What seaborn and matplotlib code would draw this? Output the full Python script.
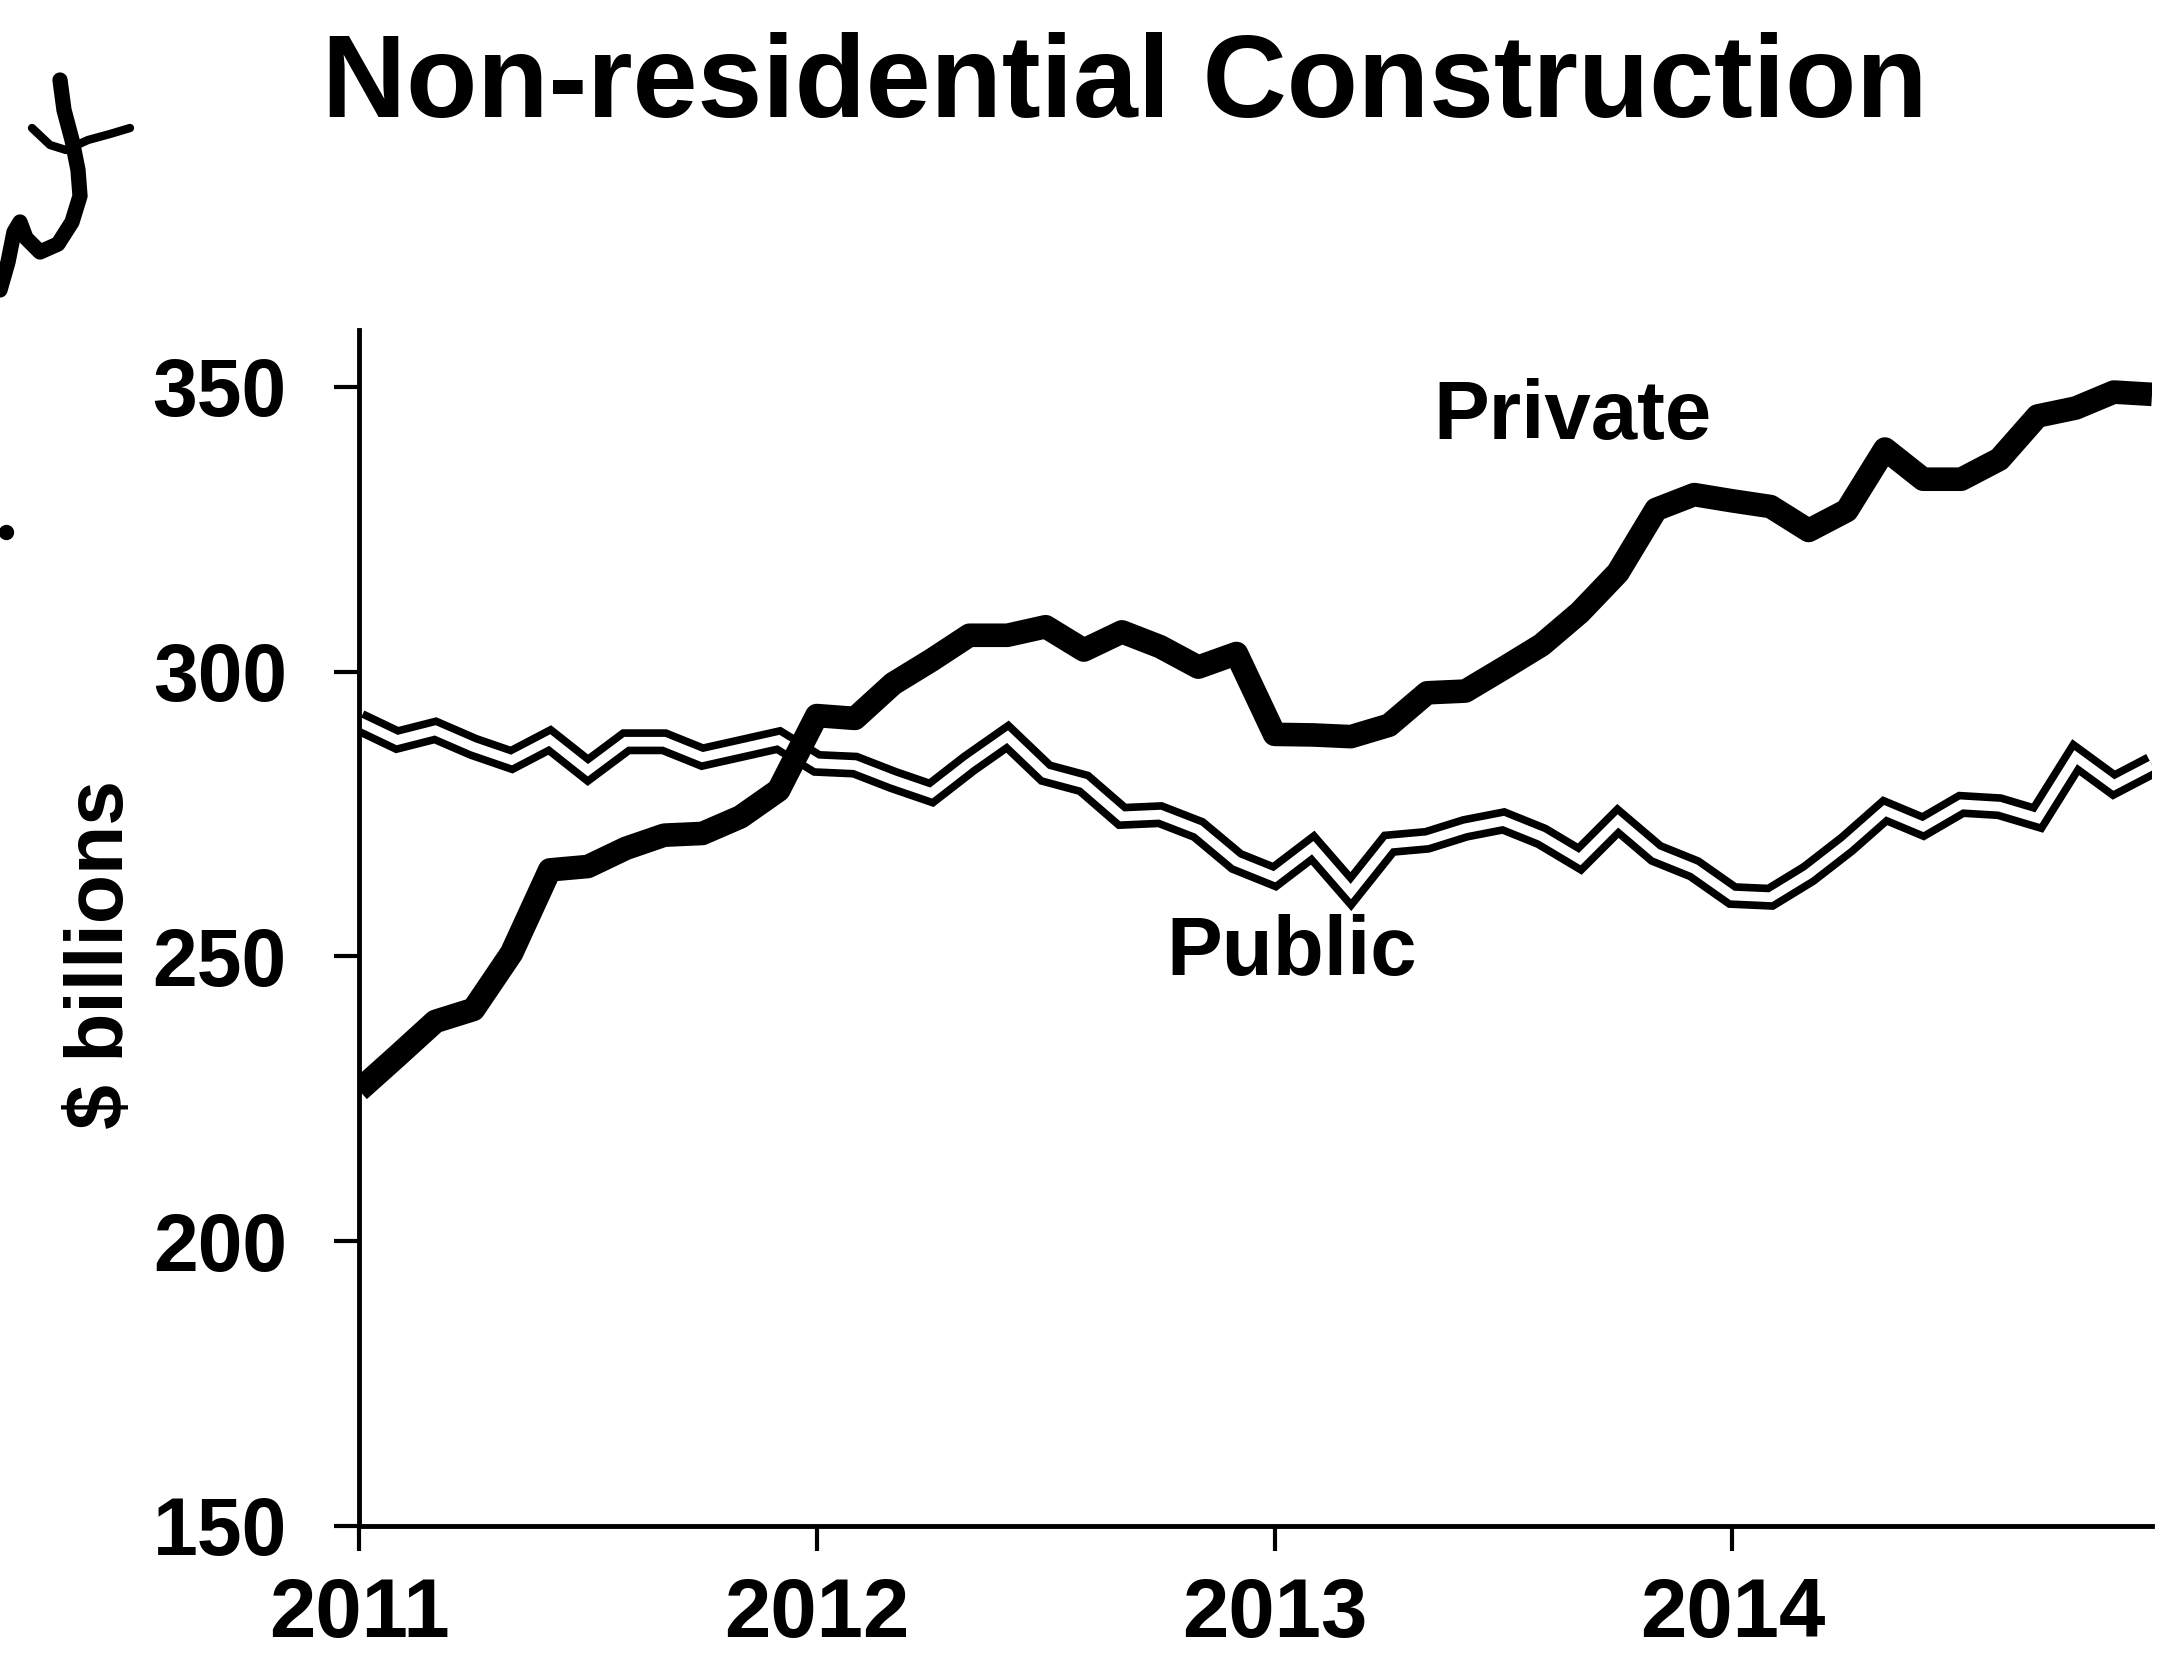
import numpy as np
import pandas as pd
import matplotlib
matplotlib.use("Agg")
import matplotlib.pyplot as plt
from matplotlib.lines import Line2D
import seaborn as sns

# ---- data (monthly, Jan 2011 - Dec 2014, $ billions) ----
private = [226.5, 232.5, 238.6, 240.7, 250.6, 265.2, 265.8, 269.0, 271.3, 271.6, 274.5, 279.2,
           292.3, 291.8, 297.9, 302.0, 306.4, 306.4, 307.9, 303.8, 307.0, 304.4, 300.8, 303.2,
           289.0, 288.9, 288.6, 290.6, 296.3, 296.6, 300.6, 304.7, 310.4, 317.4, 328.5, 331.1,
           330.0, 329.0, 324.8, 328.3, 339.1, 333.8, 333.8, 337.3, 344.9, 346.3, 349.1, 348.7]
public = [291.2, 288.0, 289.7, 286.8, 284.5, 288.0, 282.7, 287.7, 287.7, 285.0, 286.5, 288.0,
          283.9, 283.6, 281.0, 278.7, 283.9, 288.6, 282.2, 280.4, 274.6, 274.9, 272.3, 266.7,
          264.0, 269.1, 261.4, 269.8, 270.4, 272.5, 273.8, 271.1, 267.1, 273.8, 268.1, 265.4,
          260.7, 260.4, 264.5, 269.7, 275.6, 272.8, 276.7, 276.3, 274.3, 285.0, 280.1, 283.6]
years = [2011, 2012, 2013, 2014]
yticks = [150, 200, 250, 300, 350]
title = "Non-residential Construction"
ylabel = "$ billions"

months = pd.date_range("2011-01-01", periods=len(private), freq="MS")
t = months.year + (months.month - 1) / 12.0
df = pd.DataFrame({"t": t, "Private": private, "Public": public})

sns.set_theme(style="white")
plt.rcParams["font.family"] = ["Liberation Sans", "DejaVu Sans"]
plt.rcParams["font.weight"] = "bold"
for k in ["text.color", "axes.labelcolor", "xtick.color", "ytick.color", "axes.edgecolor"]:
    plt.rcParams[k] = "black"

W, H = 2180, 1664
fig = plt.figure(figsize=(W / 100, H / 100), dpi=100)
ax = fig.add_axes([359 / W, 1 - 1526 / H, (2152 - 359) / W, (1526 - 330) / H])

sns.lineplot(data=df, x="t", y="Public", ax=ax, color="black", linewidth=18,
             solid_joinstyle="miter", solid_capstyle="butt")
sns.lineplot(data=df, x="t", y="Public", ax=ax, color="white", linewidth=7,
             solid_joinstyle="miter", solid_capstyle="butt")
sns.lineplot(data=df, x="t", y="Private", ax=ax, color="black", linewidth=17,
             solid_joinstyle="round", solid_capstyle="butt")

ax.set_xlim(t[0], t[-1])
ax.set_ylim(150, 360)
ax.set_xticks(years)
ax.set_xticklabels([str(y) for y in years], fontsize=60, fontweight="bold")
ax.set_yticks(yticks)
ax.set_yticklabels([str(v) for v in yticks], fontsize=58, fontweight="bold")
ax.tick_params(axis="both", direction="out", length=18, width=3, color="black",
               bottom=True, left=True)
ax.tick_params(axis="x", pad=18)
ax.tick_params(axis="y", pad=34)
ax.set_xlabel("")
ax.set_ylabel(ylabel, fontsize=58, fontweight="bold")
ax.yaxis.set_label_coords(-0.122, 0.478)

for s in ["top", "right"]:
    ax.spines[s].set_visible(False)
for s in ["left", "bottom"]:
    ax.spines[s].set_color("black")
    ax.spines[s].set_linewidth(3.5)

ax.text(2011 + 31.8 / 12, 344.7, "Private", fontsize=60, fontweight="bold",
        ha="center", va="center")
ax.text(2011 + 24.46 / 12, 250.6, "Public", fontsize=60, fontweight="bold",
        ha="center", va="center")

fig.text(1124.5 / W, 1 - 117 / H, title, fontsize=84, fontweight="bold",
         ha="center", va="baseline")

# handwritten margin marks (scanned annotation)
def px(pts):
    xs = [p[0] / W for p in pts]
    ys = [1 - p[1] / H for p in pts]
    return xs, ys

strokes = [
    ([(0, 290), (8, 262), (14, 232), (20, 222), (26, 238), (40, 252), (58, 244),
      (72, 222), (80, 196), (78, 170), (72, 140), (64, 110), (60, 80)], 11),
    ([(32, 128), (50, 145), (66, 150), (88, 140), (110, 134), (130, 128)], 6),
]
for st, lw in strokes:
    xs, ys = px(st)
    fig.add_artist(Line2D(xs, ys, transform=fig.transFigure, color="black",
                          linewidth=lw, solid_capstyle="round", solid_joinstyle="round"))
xs, ys = px([(6, 532)])
fig.add_artist(Line2D(xs, ys, transform=fig.transFigure, color="black",
                      marker="o", markersize=10, linestyle="none"))

fig.savefig("out.png", dpi=100, facecolor="white")
